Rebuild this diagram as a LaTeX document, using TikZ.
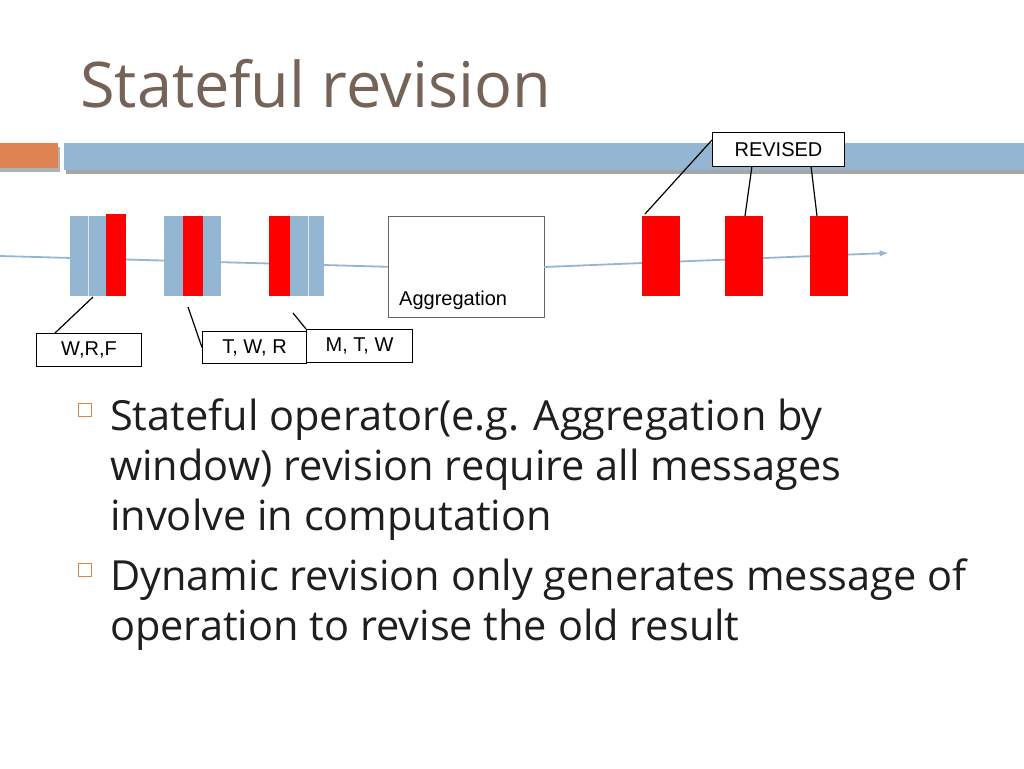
\documentclass[tikz,border=0pt]{standalone}
\usepackage{fontspec}
\setmainfont{Open Sans}
\newfontfamily\arialf{Liberation Sans}
\usetikzlibrary{calc}
\definecolor{sblue}{RGB}{148,182,210}
\definecolor{sorange}{RGB}{221,132,82}
\definecolor{stitle}{RGB}{118,99,88}
\definecolor{stext}{RGB}{30,30,30}
\begin{document}
\begin{tikzpicture}[x=1pt,y=-1pt,
  bl/.style={fill=sblue,draw=none},
  rd/.style={fill=red,draw=none},
  lab/.style={draw=black,line width=1pt,fill=white,font=\arialf\fontsize{20}{21}\selectfont,inner sep=0pt},
  con/.style={line width=1.2pt},
  flow/.style={draw=sblue,line width=1.8pt}]
\useasboundingbox (0,0) rectangle (1024,768);
\node[anchor=base west,text=stitle,font=\fontsize{63}{66}\selectfont,inner sep=0] (title) at (80,107) {Stateful revision};
\fill[gray!60] (0,147) rectangle (60,172);
\fill[sorange] (0,143) rectangle (58,168);
\fill[gray!70] (66,147) rectangle (1024,174);
\fill[bl] (64,143) rectangle (1024,170);
% flow lines
\node[draw=black!60,line width=0.6pt,minimum width=156,minimum height=101,anchor=north west,inner sep=0] (agg) at (388,216) {};
\node[anchor=base west,font=\arialf\fontsize{20}{22}\selectfont,inner sep=0] (aggt) at (399,305) {Aggregation};
\coordinate (s) at (0,256);
\coordinate (e) at (888,253);
\coordinate (ae) at (544,267);
\draw[flow] (s) -- (agg.west);
\draw[flow,-latex] (ae) -- (e);
% groups
\fill[bl] (70,216) rectangle (106,296); \draw[white!80!gray,line width=1pt] (88,216)--(88,296);
\fill[rd] (106,214) rectangle (126,296);
\fill[bl] (164,216) rectangle (221,296); \fill[rd] (183,216) rectangle (203,296);
\fill[rd] (269,216) rectangle (290,296); \fill[bl] (290,216) rectangle (324,296);
\draw[white!80!gray,line width=1pt] (308,216)--(308,296);
\foreach \x/\n in {642/r1,725/r2,810/r3} {\fill[rd] (\x,216) rectangle ++(38,80); \coordinate (\n) at (\x,216);}
% labels
\node[lab,minimum width=105,minimum height=33,anchor=north west] (wrf) at (36,333) {W,R,F};
\node[lab,minimum width=104,minimum height=32,anchor=north west] (twr) at (202,331) {T, W, R};
\node[lab,minimum width=106,minimum height=33,anchor=north west] (mtw) at (306,329) {M, T, W};
\node[lab,minimum width=132,minimum height=34,anchor=north west] (rev) at (712,132) {REVISED};
\coordinate (g1) at (93,297); \coordinate (g2) at (188,307); \coordinate (g3) at (293,313);
\draw[con] (g1) -- (55,333);
\draw[con] (g2) -- (twr.west);
\draw[con] (g3) -- (mtw.north west);
\draw[con] ($(rev.north west)+(0,8)$) -- ($(r1)+(3,-2)$);
\draw[con] (752,166) -- (745,216);
\draw[con] (811,166) -- (817,216);
% bullets
\begin{scope}[every node/.style={anchor=base west,text=stext,font=\fontsize{41.5}{50}\selectfont,inner sep=0}]
\node[draw=sorange,line width=1pt,minimum size=13,anchor=center] (b1) at (85,410) {};
\node[draw=sorange,line width=1pt,minimum size=13,anchor=center] (b2) at (85,570) {};
\node (t1a) at (110,430) {Stateful operator(e.g. Aggregation by};
\node (t1b) at (110,480) {window) revision require all messages};
\node (t1c) at (110,530) {involve in computation};
\node (t2a) at (110,590) {Dynamic revision only generates message of};
\node (t2b) at (110,640) {operation to revise the old result};
\end{scope}
\end{tikzpicture}
\end{document}
